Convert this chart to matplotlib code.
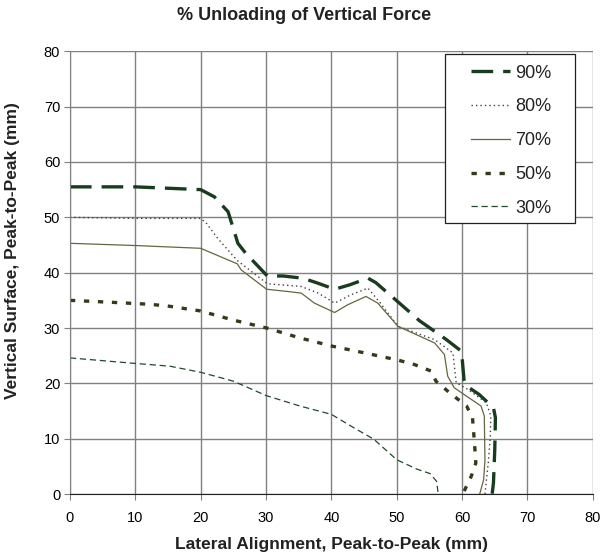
import matplotlib
matplotlib.use("Agg")
import matplotlib.pyplot as plt
from matplotlib.patches import Rectangle

plt.rcParams['font.family'] = ['Liberation Sans', 'DejaVu Sans']

labels = ["90%", "80%", "70%", "50%", "30%"]

x90 = [0, 10, 20, 22.1, 24.2, 25.7, 26.9, 30.2, 32.6, 35.6, 37.7, 40.5, 42.8, 45.6, 46.8, 50.7, 53.5, 55.8, 57.6, 59.9, 60.05, 60.3, 60.6, 62.6, 64.8, 65.1, 65.0, 64.8, 64.6]
y90 = [55.5, 55.5, 55.0, 53.7, 51.0, 45.3, 43.5, 39.4, 39.4, 39.0, 38.2, 37.0, 37.8, 39.0, 38.2, 34.2, 31.3, 29.4, 27.9, 25.8, 24.0, 20.6, 19.6, 18.0, 15.6, 13.8, 8.0, 2.0, 0]

x80 = [0, 10, 20, 20.9, 22.6, 25.6, 30.2, 35.4, 38.0, 40.5, 43.0, 45.6, 47.5, 50.2, 55.8, 58.6, 59.1, 60.9, 63.7, 64.4, 64.3, 64.0, 63.5]
y80 = [50.0, 49.8, 49.8, 48.9, 46.2, 42.2, 38.0, 37.5, 36.3, 34.5, 36.0, 37.2, 34.5, 30.3, 27.9, 25.5, 20.1, 18.9, 16.5, 14.1, 10.0, 5.6, 0]

x70 = [0, 10, 20, 25.6, 26.2, 30.1, 33.3, 35.4, 37.4, 40.5, 42.5, 45.3, 47.1, 50.2, 55.8, 57.3, 57.8, 58.8, 62.9, 63.4, 63.5, 63.3, 62.7]
y70 = [45.3, 44.9, 44.4, 41.6, 40.5, 37.0, 36.6, 36.3, 34.5, 32.8, 34.2, 35.7, 34.5, 30.3, 27.3, 25.2, 21.3, 19.2, 15.9, 14.1, 6.2, 2.6, 0]

x50 = [0, 7.1, 12, 14.8, 19.9, 25.1, 30.1, 35.2, 40.2, 45.1, 50.2, 52.7, 55.3, 56.0, 58.3, 60.7, 61.6, 61.9, 62.1, 61.4, 60.1]
y50 = [35.0, 34.6, 34.3, 34.0, 33.1, 31.4, 30.0, 28.2, 26.7, 25.5, 24.2, 23.4, 22.2, 20.4, 18.1, 15.9, 13.7, 9.2, 5.6, 3.2, 0]

x30 = [0, 10, 15.3, 20, 25, 30, 35.2, 40, 43.4, 46.5, 50, 53.1, 55.1, 56.1, 56.3, 56.4]
y30 = [24.6, 23.6, 23.1, 22.0, 20.4, 17.8, 15.9, 14.4, 12.0, 9.9, 6.2, 4.5, 3.7, 2.3, 0.5, 0]

xticks = list(range(0, 81, 10))
yticks = list(range(0, 81, 10))

fig = plt.figure(figsize=(6.08, 5.57), dpi=100)
ax = fig.add_axes([0.115, 0.113, 0.86, 0.795])

ax.plot(x90, y90, color='#173d1e', lw=2.4, dashes=(6.5, 3.0), label=labels[0], dash_capstyle='butt')
ax.plot(x80, y80, color='#404040', lw=1.0, dashes=(1, 2.2), label=labels[1])
ax.plot(x70, y70, color='#66663f', lw=0.9, label=labels[2])
ax.plot(x50, y50, color='#38381a', lw=2.4, dashes=(1.6, 2.6), label=labels[3], dash_capstyle='butt')
ax.plot(x30, y30, color='#1f4a2b', lw=0.9, dashes=(5, 3), label=labels[4])

ax.set_xlim(0, 80)
ax.set_ylim(0, 80)
ax.set_xticks(xticks)
ax.set_yticks(yticks)
ax.grid(True, color='#808080', lw=1.0)
ax.set_axisbelow(True)
for s in ['top', 'right']:
    ax.spines[s].set_visible(False)
ax.spines['left'].set_color('#808080')
ax.spines['bottom'].set_color('#202020')
ax.tick_params(direction='out', length=4, color='#808080', labelsize=10.5, pad=3)
ax.tick_params(axis='x', pad=8)

fig.text(0.5, 1 - 16 / 557, '% Unloading of Vertical Force', fontsize=13, fontweight='bold',
         ha='center', va='center', color='#222222')
ax.set_xlabel('Lateral Alignment, Peak-to-Peak (mm)', fontsize=12.5, fontweight='bold', labelpad=9,
              color='#222222')
ax.set_ylabel('Vertical Surface, Peak-to-Peak (mm)', fontsize=12.5, fontweight='bold', labelpad=15,
              color='#222222')
ax.yaxis.set_label_coords(-0.095, 0.55)

# legend frame
fig.patches.append(Rectangle((445 / 608, 1 - 223 / 557), 130 / 608, 169 / 557,
                             transform=fig.transFigure, facecolor='white', edgecolor='#202020',
                             lw=0.9, zorder=3))
leg = fig.legend(loc='upper left', bbox_to_anchor=(471 / 608, 1 - 64.5 / 557), fontsize=13,
                 frameon=False, handlelength=2.15, handletextpad=0.28, labelspacing=0.93,
                 borderpad=0, borderaxespad=0)
leg.set_zorder(5)
for t in leg.get_texts():
    t.set_color('#222222')

fig.savefig('out.png', dpi=100)
